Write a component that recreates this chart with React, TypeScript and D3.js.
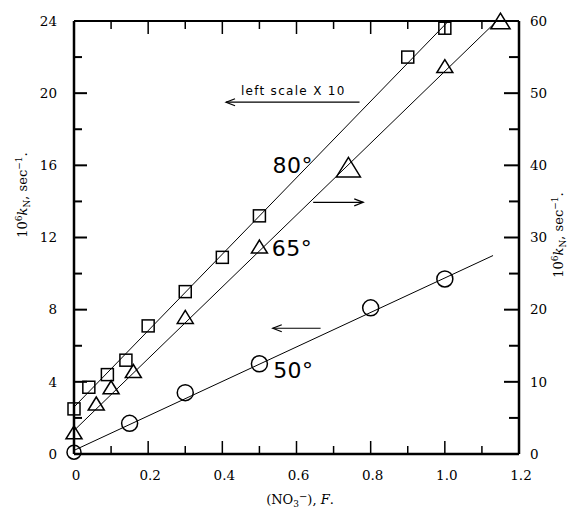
import React from 'react';
import * as d3 from 'd3';

// ---- data (left-scale units) ----
const xTickValues = [0, 0.2, 0.4, 0.6, 0.8, 1.0, 1.2];
const xTickLabels = ['0', '0.2', '0.4', '0.6', '0.8', '1.0', '1.2'];
const leftTickValues = [0, 4, 8, 12, 16, 20, 24];
const rightTickValues = [0, 10, 20, 30, 40, 50, 60];

const conc80 = [0, 0.04, 0.09, 0.14, 0.2, 0.3, 0.4, 0.5, 0.9, 1.0];
const k80 = [2.5, 3.7, 4.4, 5.2, 7.1, 9.0, 10.9, 13.2, 22.0, 23.6];
const conc65 = [0, 0.06, 0.1, 0.16, 0.3, 0.5, 0.74, 1.0, 1.15];
const k65 = [1.2, 2.8, 3.7, 4.6, 7.6, 11.5, 15.9, 21.5, 24.0];
const conc50 = [0, 0.15, 0.3, 0.5, 0.8, 1.0];
const k50 = [0.1, 1.7, 3.4, 5.0, 8.1, 9.7];

const fit80: [number, number][] = [[0, 2.6], [1.01, 24]];
const fit65: [number, number][] = [[0, 1.3], [1.14, 24]];
const fit50: [number, number][] = [[0, 0.2], [1.13, 11.0]];

const seriesLabels = ['80°', '65°', '50°'];
const labelAnchors: [number, number][] = [[0.535, 15.6], [0.533, 11.0], [0.537, 4.2]];

export default function App() {
  const W = 574, H = 511;
  const x = d3.scaleLinear().domain([0, 1.2]).range([74, 519]);
  const yL = d3.scaleLinear().domain([0, 24]).range([454, 21]);
  const yR = d3.scaleLinear().domain([0, 60]).range([454, 21]);
  const line = d3.line<[number, number]>().x(d => x(d[0])).y(d => yL(d[1]));

  const serif = '"DejaVu Serif", "Liberation Serif", serif';
  const sans = '"DejaVu Sans", "Liberation Sans", sans-serif';

  const xMinor = d3.range(1, 12).map(i => i / 10);
  const leftMinor = d3.range(1, 12).map(i => i * 2);
  const rightMinor = d3.range(1, 12).map(i => i * 5);

  const tri = (cx: number, cy: number, w: number, h: number) =>
    `M${cx},${cy - h / 2}L${cx + w / 2},${cy + h / 2}L${cx - w / 2},${cy + h / 2}Z`;

  const arrowHead = (tx: number, ty: number, dir: number) =>
    `M${tx + dir * 9},${ty - 3.5}L${tx},${ty}L${tx + dir * 9},${ty + 3.5}`;

  return (
    <svg width={W} height={H} style={{ position: 'absolute', left: 0, top: 0, background: '#fff' }}>
      <rect width={W} height={H} fill="#fff" />
      {/* fitted lines */}
      <g fill="none" stroke="#000" strokeWidth={1}>
        <path d={line(fit80) || ''} />
        <path d={line(fit65) || ''} />
        <path d={line(fit50) || ''} />
      </g>
      {/* markers */}
      <g fill="none" stroke="#000" strokeWidth={1.5}>
        {conc80.map((c, i) => (
          <rect key={'s' + i} x={x(c) - 6} y={yL(k80[i]) - 6} width={12} height={12} />
        ))}
        {conc65.map((c, i) => {
          const s = i === 6 ? 1.5 : i === 8 ? 1.2 : 1;
          return <path key={'t' + i} d={tri(x(c), yL(k65[i]), 16 * s, 13 * s)} />;
        })}
        {conc50.map((c, i) => (
          <circle key={'c' + i} cx={x(c)} cy={yL(k50[i])} r={i === 0 ? 7 : 8} />
        ))}
      </g>
      {/* axes frame */}
      <g stroke="#000" fill="none">
        <line x1={x(0)} x2={x(1.2)} y1={yL(0)} y2={yL(0)} strokeWidth={2.5} />
        <line x1={x(0)} x2={x(1.2)} y1={yL(24)} y2={yL(24)} strokeWidth={2} />
        <line x1={x(0)} x2={x(0)} y1={yL(0)} y2={yL(24)} strokeWidth={2.5} />
        <line x1={x(1.2)} x2={x(1.2)} y1={yL(0)} y2={yL(24)} strokeWidth={2.5} />
        {xMinor.map((v, i) => {
          const len = (i + 1) % 2 === 0 ? 13 : 8;
          return (
            <g key={'xt' + i}>
              <line x1={x(v)} x2={x(v)} y1={yL(0)} y2={yL(0) - len} strokeWidth={1.5} />
              <line x1={x(v)} x2={x(v)} y1={yL(24)} y2={yL(24) + len} strokeWidth={1.5} />
            </g>
          );
        })}
        {leftMinor.map((v, i) => (
          <line key={'lt' + i} x1={x(0)} x2={x(0) + (v % 4 === 0 ? 13 : 8)} y1={yL(v)} y2={yL(v)} strokeWidth={2} />
        ))}
        {rightMinor.map((v, i) => (
          <line key={'rt' + i} x1={x(1.2)} x2={x(1.2) - (v % 10 === 0 ? 15 : 10)} y1={yR(v)} y2={yR(v)} strokeWidth={2} />
        ))}
      </g>
      {/* tick labels */}
      <g fontFamily={serif} fontSize={13.5} fill="#000">
        {leftTickValues.map(v => (
          <text key={'ll' + v} x={x(0) - 17} y={yL(v)} dy="0.35em" textAnchor="end">{v}</text>
        ))}
        {rightTickValues.map(v => (
          <text key={'rl' + v} x={x(1.2) + 11} y={yR(v)} dy="0.35em" textAnchor="start">{v}</text>
        ))}
        {xTickValues.map((v, i) => (
          <text key={'xl' + i} x={x(v) + 2} y={480} textAnchor="middle">{xTickLabels[i]}</text>
        ))}
      </g>
      {/* axis titles */}
      <text x={300} y={504} textAnchor="middle" fontFamily={serif} fontSize={13}>
        (NO<tspan fontSize={9} dy={3}>3</tspan><tspan fontSize={10} dy={-7}>−</tspan><tspan dy={4}>), </tspan><tspan fontStyle="italic">F</tspan>.
      </text>
      <text transform={`translate(27,195) rotate(-90)`} textAnchor="middle" fontFamily={serif} fontSize={13}>
        10<tspan fontSize={9} dy={-5}>6</tspan><tspan fontStyle="italic" dy={5}>k</tspan><tspan fontSize={9} dy={3}>N</tspan><tspan dy={-3}>, sec</tspan><tspan fontSize={9} dy={-5}>−1</tspan><tspan dy={5}>.</tspan>
      </text>
      <text transform={`translate(563,235) rotate(-90)`} textAnchor="middle" fontFamily={serif} fontSize={13}>
        10<tspan fontSize={9} dy={-5}>6</tspan><tspan fontStyle="italic" dy={5}>k</tspan><tspan fontSize={9} dy={3}>N</tspan><tspan dy={-3}>, sec</tspan><tspan fontSize={9} dy={-5}>−1</tspan><tspan dy={5}>.</tspan>
      </text>
      {/* annotations */}
      <g fontFamily={sans} fill="#000">
        {seriesLabels.map((t, i) => (
          <text key={'sl' + i} x={x(labelAnchors[i][0])} y={yL(labelAnchors[i][1])} fontSize={22} letterSpacing={0.5}>{t}</text>
        ))}
        <text x={x(0.45)} y={yL(19.9)} fontSize={12} letterSpacing={1.3}>left scale X 10</text>
      </g>
      <g stroke="#000" fill="none" strokeWidth={1.2}>
        <line x1={x(0.41)} x2={x(0.77)} y1={yL(19.5)} y2={yL(19.5)} />
        <path d={arrowHead(x(0.41), yL(19.5), 1)} />
        <line x1={x(0.645)} x2={x(0.78)} y1={yL(13.95)} y2={yL(13.95)} />
        <path d={arrowHead(x(0.78), yL(13.95), -1)} />
        <line x1={x(0.536)} x2={x(0.665)} y1={yL(6.97)} y2={yL(6.97)} />
        <path d={arrowHead(x(0.536), yL(6.97), 1)} />
      </g>
    </svg>
  );
}
